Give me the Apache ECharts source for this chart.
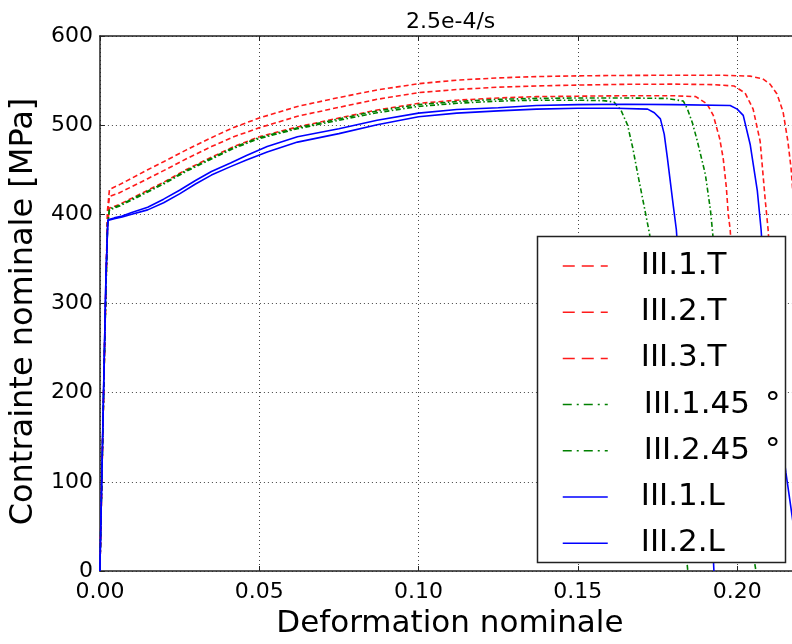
<!DOCTYPE html>
<html><head><meta charset="utf-8">
<script src="https://cdn.jsdelivr.net/npm/echarts@6/dist/echarts.min.js"></script>
<style>html,body{margin:0;padding:0;background:#fff}#c{width:792px;height:644px}</style>
</head><body><div id="c"></div>
<script>
const FONT = 'DejaVu Sans';
const chartTitle = '2.5e-4/s';
const xTitle = 'Deformation nominale';
const yTitle = 'Contrainte nominale [MPa]';
const seriesNames = ['III.1.T', 'III.2.T', 'III.3.T', 'III.1.45 °', 'III.2.45 °', 'III.1.L', 'III.2.L'];

const t1x = [0, 0.0015, 0.0024, 0.003, 0.006, 0.01, 0.015, 0.02, 0.027, 0.035, 0.042, 0.05, 0.062, 0.075, 0.087, 0.10, 0.112, 0.125, 0.137, 0.15, 0.165, 0.18, 0.195, 0.204, 0.208, 0.2103, 0.2125, 0.2144, 0.2159, 0.2169, 0.218, 0.2195];
const t1y = [0, 255, 405, 428, 433, 440.5, 450, 459, 472, 486, 497.5, 508, 521, 531, 539.5, 546.5, 550.5, 553, 554.5, 555.3, 555.8, 556, 556, 555, 552, 546, 535, 515, 482, 452, 400, 330];

const t2x = [0, 0.0015, 0.0024, 0.003, 0.006, 0.01, 0.015, 0.02, 0.027, 0.035, 0.042, 0.05, 0.062, 0.075, 0.087, 0.10, 0.112, 0.125, 0.137, 0.15, 0.165, 0.18, 0.192, 0.199, 0.2025, 0.205, 0.2072, 0.2088, 0.2097, 0.2108, 0.212, 0.2132];
const t2y = [0, 255, 400, 420, 424, 431, 440, 449, 462, 476, 487, 497, 510, 520, 529, 536.5, 540, 542.6, 544, 545, 545.8, 546, 545.5, 544, 536, 518, 482, 416, 383, 320, 250, 180];

const t3x = [0, 0.0015, 0.0024, 0.003, 0.006, 0.01, 0.015, 0.02, 0.027, 0.035, 0.042, 0.05, 0.062, 0.075, 0.087, 0.10, 0.112, 0.125, 0.137, 0.15, 0.165, 0.18, 0.187, 0.1905, 0.1925, 0.1945, 0.1956, 0.1966, 0.1972, 0.1978, 0.199, 0.2003, 0.2015];
const t3y = [0, 255, 390, 407, 411, 418, 427, 436, 450, 464, 476, 487, 498, 508, 517, 524.5, 528, 530.5, 532, 532.5, 533, 533, 532, 524, 511, 485, 463, 430, 400, 383, 310, 220, 150];

const d1x = [0, 0.0015, 0.0024, 0.003, 0.006, 0.01, 0.015, 0.02, 0.027, 0.035, 0.042, 0.05, 0.062, 0.075, 0.087, 0.10, 0.112, 0.125, 0.137, 0.15, 0.158, 0.1613, 0.1635, 0.1656, 0.1672, 0.1688, 0.1713, 0.1725, 0.175, 0.179, 0.1825, 0.1841, 0.1845];
const d1y = [0, 255, 388, 405, 409, 416, 425, 434, 448, 462, 474, 485, 496, 505.5, 514, 521, 524.5, 527, 528, 528, 527.5, 526, 517, 500, 475, 445, 400, 378, 300, 180, 70, 15, 0];

const d2x = [0, 0.0015, 0.0024, 0.003, 0.006, 0.01, 0.015, 0.02, 0.027, 0.035, 0.042, 0.05, 0.062, 0.075, 0.087, 0.10, 0.112, 0.125, 0.137, 0.15, 0.165, 0.178, 0.1831, 0.1844, 0.186, 0.1875, 0.19, 0.1916, 0.1922, 0.1935, 0.197, 0.201, 0.2045, 0.2059];
const d2y = [0, 255, 389, 406, 410, 417, 426, 435, 449, 463, 475, 486, 497, 507, 516, 523, 526.5, 529, 530, 530.5, 530.5, 530, 527, 518, 502, 482, 445, 405, 383, 330, 220, 110, 30, 0];

const l1x = [0, 0.0012, 0.0019, 0.0025, 0.0045, 0.007, 0.01, 0.015, 0.02, 0.025, 0.03, 0.035, 0.041, 0.046, 0.0525, 0.062, 0.075, 0.087, 0.10, 0.112, 0.125, 0.137, 0.15, 0.162, 0.1719, 0.174, 0.1759, 0.1771, 0.1781, 0.18, 0.1809, 0.1835, 0.1875, 0.1915, 0.1925, 0.1927];
const l1y = [0, 210, 330, 393, 395, 397, 400, 405, 413, 423, 434, 444, 453.5, 461, 470, 481, 490.5, 500.5, 509.5, 513.5, 516, 518, 519, 519, 518, 514, 507, 490, 463, 408, 383, 250, 130, 40, 15, 0];

const l2x = [0, 0.0012, 0.0019, 0.0025, 0.0045, 0.007, 0.01, 0.015, 0.02, 0.025, 0.03, 0.035, 0.041, 0.046, 0.0525, 0.062, 0.075, 0.087, 0.10, 0.112, 0.125, 0.137, 0.15, 0.165, 0.18, 0.1978, 0.2, 0.2019, 0.2041, 0.2063, 0.2075, 0.209, 0.212, 0.2153, 0.2175, 0.219];
const l2y = [0, 210, 330, 394, 396, 398, 402, 408, 417, 427, 438, 448, 457.5, 466, 476, 487, 496, 505.5, 513.5, 517.5, 519.5, 522, 523, 523.5, 523, 522, 518, 511, 478, 427, 383, 300, 200, 110, 55, 20];

const xTicks = [0, 0.05, 0.10, 0.15, 0.20];
const yTicks = [0, 100, 200, 300, 400, 500, 600];
const xMax = 0.2172;

const curves = [[t1x, t1y], [t2x, t2y], [t3x, t3y], [d1x, d1y], [d2x, d2y], [l1x, l1y], [l2x, l2y]];
const RED = '#ff1a1a', GREEN = '#008000', BLUE = '#0000ff';
const colors = [RED, RED, RED, GREEN, GREEN, BLUE, BLUE];
const plotDash = [[5, 3], [5, 3], [5, 3], [5, 2.5, 1.5, 2.5], [5, 2.5, 1.5, 2.5], 'solid', 'solid'];
const legendDash = [[12, 7], [12, 7], [12, 7], [9, 5, 2, 5], [9, 5, 2, 5], 'solid', 'solid'];

const series = curves.map((c, i) => ({
  name: seriesNames[i],
  type: 'line',
  data: c[0].map((x, k) => [x, c[1][k]]),
  showSymbol: false,
  symbol: 'none',
  clip: true,
  color: colors[i],
  lineStyle: { color: colors[i], width: 1.6, type: plotDash[i] },
  z: 2
}));

const axisCommon = {
  axisLine: { show: true, onZero: false, lineStyle: { color: '#222', width: 1.5 } },
  axisTick: { show: true, inside: true, length: 5, lineStyle: { color: '#222', width: 1 } },
  splitLine: { show: true, lineStyle: { type: [1, 3], color: '#444', width: 1 } }
};

const chart = echarts.init(document.getElementById('c'), null, { renderer: 'canvas' });
chart.setOption({
  animation: false,
  backgroundColor: '#fff',
  title: {
    text: chartTitle, left: 401, top: 6,
    textStyle: { fontFamily: FONT, fontSize: 22, fontWeight: 'normal', color: '#000' }
  },
  grid: { left: 97, top: 36, right: 0, height: 544, containLabel: false },
  xAxis: [{
    type: 'value', min: 0, max: xMax, interval: 0.05, position: 'bottom',
    name: xTitle, nameLocation: 'middle', nameGap: 37,
    nameTextStyle: { fontFamily: FONT, fontSize: 31, color: '#000', padding: [0, 0, 0, 8] },
    axisLabel: {
      fontFamily: FONT, fontSize: 22, color: '#000', margin: 10, showMaxLabel: false,
      formatter: v => xTicks.some(t => Math.abs(t - v) < 1e-9) ? v.toFixed(2) : ''
    },
    ...axisCommon
  }, {
    type: 'value', min: 0, max: xMax, interval: 0.05, position: 'top',
    axisLabel: { show: false },
    axisLine: axisCommon.axisLine, axisTick: axisCommon.axisTick, splitLine: { show: false }
  }],
  yAxis: {
    type: 'value', min: 0, max: 600, interval: 100,
    name: yTitle, nameLocation: 'middle', nameGap: 50, nameRotate: 90,
    nameTextStyle: { fontFamily: FONT, fontSize: 32, color: '#000', padding: [0, 16, 0, 0] },
    axisLabel: {
      fontFamily: FONT, fontSize: 22, color: '#000', margin: 7,
      formatter: v => yTicks.includes(v) ? String(v) : ''
    },
    ...axisCommon
  },
  graphic: {
    elements: [{
      type: 'rect', z: 50,
      shape: { x: 537.5, y: 236.5, width: 248, height: 326 },
      style: { fill: '#fff', stroke: '#222', lineWidth: 1.5 }
    }]
  },
  legend: {
    orient: 'vertical', left: 562, top: 250, z: 60,
    padding: 0, itemGap: 14.2, itemWidth: 45, itemHeight: 14,
    data: seriesNames.map((n, i) => ({
      name: n,
      lineStyle: { type: legendDash[i], width: 1.5 },
      itemStyle: { opacity: 0 }
    })),
    formatter: name => name.endsWith('°')
      ? '{n|' + name.slice(0, -2) + '}{d|°}'
      : '{t|' + name + '}',
    textStyle: {
      fontFamily: FONT, fontSize: 31, color: '#000', lineHeight: 32,
      rich: {
        t: { fontFamily: FONT, fontSize: 31, lineHeight: 32, color: '#000', padding: [0, 0, 0, 28] },
        n: { fontFamily: FONT, fontSize: 31, lineHeight: 32, color: '#000', padding: [0, 0, 0, 31] },
        d: { fontFamily: FONT, fontSize: 31, lineHeight: 32, color: '#000', padding: [0, 0, 0, 15] }
      }
    }
  },
  series: series
});
</script>
</body></html>
